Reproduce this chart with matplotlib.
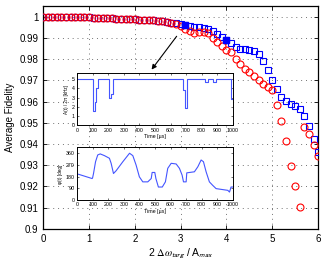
import numpy as np
import matplotlib
matplotlib.use("Agg")
import matplotlib.pyplot as plt
from matplotlib.ticker import FormatStrFormatter

plt.rcParams['font.family'] = ['Liberation Sans', 'DejaVu Sans']
plt.rcParams['mathtext.fontset'] = 'stix'

# main data: fidelity vs 2*dw_targ/A_max
x_vals = np.round(np.arange(0, 6.01, 0.1), 2)

fid_blue = [1.0000, 1.0000, 1.0000, 0.99998, 0.99995, 0.9999, 0.9999, 0.9998, 0.9998, 0.9997,
            0.9997, 0.9996, 0.9995, 0.9994, 0.9993, 0.9992, 0.9991, 0.9990, 0.9989, 0.9988,
            0.9987, 0.9986, 0.9985, 0.9983, 0.9982, 0.9980, 0.9978, 0.9975, 0.9972, 0.9969,
            0.9966, 0.9962, 0.9958, 0.9953, 0.9950, 0.9947, 0.9942, 0.9934, 0.9918, 0.9906,
            0.9890, 0.9874, 0.9858, 0.9848, 0.9848, 0.9843, 0.9840, 0.9824, 0.9789, 0.9748,
            0.9701, 0.9659, 0.9621, 0.9603, 0.9587, 0.9580, 0.9565, 0.9534, 0.9486, 0.9423,
            0.9363]

fid_red = [1.0000, 1.0000, 1.0000, 0.99998, 0.99995, 0.9999, 0.9999, 0.9998, 0.9998, 0.9997,
           0.9997, 0.9996, 0.9995, 0.9994, 0.9993, 0.9992, 0.9991, 0.9990, 0.9989, 0.9988,
           0.9987, 0.9986, 0.9985, 0.9983, 0.9982, 0.9980, 0.9978, 0.9975, 0.9972, 0.9967,
           0.9958, 0.9942, 0.9931, 0.9925, 0.9926, 0.9930, 0.9925, 0.9900, 0.9880, 0.9860,
           0.9845, 0.9832, 0.9800, 0.9777, 0.9755, 0.9737, 0.9718, 0.9700, 0.9683, 0.9668,
           0.9652, 0.9583, 0.9510, 0.9412, 0.9295, 0.9200, 0.9104, 0.9480, 0.9447, 0.9396,
           0.9344]

# highlighted points (filled)
hl_x = [3.1, 4.0]
hl_y = [0.9962, 0.9890]

# inset 1: amplitude A(t)/2pi [kHz]
amp_t = [0, 100, 114, 123, 133, 204, 219, 230, 683, 690, 707, 822, 837, 870, 890, 987, 1000]
amp_v = [5, 1.6, 2.5, 4.0, 5, 3.0, 3.4, 5, 3.8, 1.9, 5, 4.7, 5, 4.7, 5, 2.8, 2.8]

# inset 2: phase phi(t) [deg]
ph_t = [0, 16, 97, 100, 106, 119, 133, 149, 176, 208, 219, 234, 251, 294, 337, 358, 379, 400,
        422, 454, 476, 482, 499, 506, 522, 547, 567, 582, 604, 636, 657, 674, 683, 700, 704,
        753, 775, 796, 811, 828, 849, 870, 892, 967, 978, 988, 1000]
ph_v = [200, 195, 165, 170, 203, 292, 343, 351, 338, 318, 280, 203, 224, 292, 356, 338, 267, 178,
        140, 140, 165, 211, 211, 165, 101, 101, 140, 242, 280, 275, 242, 191, 140, 140, 208,
        216, 254, 305, 292, 216, 140, 114, 89, 76, 63, 101, 101]

fig = plt.figure(figsize=(3.29, 2.63), dpi=100)
ax = fig.add_axes([0.131, 0.130, 0.836, 0.847])

ax.plot(x_vals, fid_blue, 's', mfc='none', mec='b', ms=4.3, mew=0.8, zorder=3)
ax.plot(x_vals, fid_red, 'o', mfc='none', mec='r', ms=5, mew=0.8, zorder=3)
ax.plot(hl_x, hl_y, 's', mfc='b', mec='b', ms=4.3, zorder=4)

ax.set_xlim(0, 6)
ax.set_ylim(0.9, 1.005)
ax.set_xticks(range(7))
ax.set_yticks(np.arange(0.9, 1.001, 0.01))
ax.yaxis.set_major_formatter(FormatStrFormatter('%g'))
ax.tick_params(direction='in', top=True, right=True, labelsize=7, length=3, width=0.6)
ax.grid(True, color='0.45', linestyle=(0, (1, 4)), linewidth=0.7)
for s in ax.spines.values():
    s.set_linewidth(0.9)
ax.set_ylabel('Average Fidelity', fontsize=7, labelpad=3)
ax.set_xlabel(r'2 $\Delta\omega_{\mathsf{targ}}$ / A$_{\mathsf{max}}$', fontsize=7.5, labelpad=2)

ax.annotate('', xy=(2.33, 0.974), xytext=(2.95, 0.9918),
            arrowprops=dict(arrowstyle='-|>', color='k', lw=0.8, mutation_scale=7))

# inset 1
ax1 = fig.add_axes([0.234, 0.523, 0.474, 0.198])
ax1.plot(amp_t, amp_v, color='#4455ff', lw=0.8, drawstyle='steps-post')
ax1.set_xlim(0, 1000)
ax1.set_ylim(0, 5.6)
ax1.set_xticks(range(0, 1001, 100))
ax1.set_yticks(range(6))
ax1.tick_params(direction='in', top=True, right=True, labelsize=3.8, length=1.5, width=0.4, pad=1.5)
ax1.set_xlabel('Time [µs]', fontsize=3.8, labelpad=1)
ax1.set_ylabel('A(t) / 2π [kHz]', fontsize=3.3, labelpad=2)
for s in ax1.spines.values():
    s.set_linewidth(0.7)

# inset 2
ax2 = fig.add_axes([0.234, 0.238, 0.474, 0.2015])
ax2.plot(ph_t, ph_v, color='#4455ff', lw=0.8)
ax2.set_xlim(0, 1000)
ax2.set_ylim(0, 400)
ax2.set_xticks(range(0, 1001, 100))
ax2.set_yticks([0, 90, 180, 270, 360])
ax2.tick_params(direction='in', top=True, right=True, labelsize=3.8, length=1.5, width=0.4, pad=1.5)
ax2.set_xlabel('Time [µs]', fontsize=3.8, labelpad=1)
ax2.set_ylabel('φ(t) [deg]', fontsize=3.3, labelpad=2)
for s in ax2.spines.values():
    s.set_linewidth(0.7)

fig.savefig('out.png', dpi=100)
